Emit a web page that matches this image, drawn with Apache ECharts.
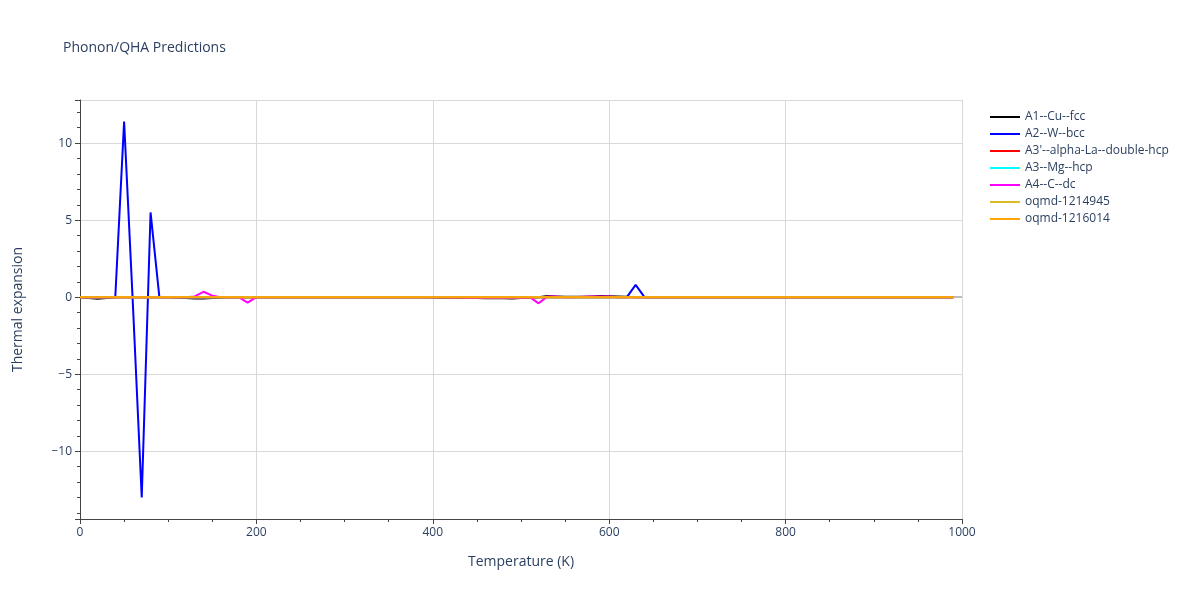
<!DOCTYPE html><html><head><meta charset="utf-8"><script src="https://cdn.jsdelivr.net/npm/echarts@6/dist/echarts.min.js"></script></head><body style="margin:0"><div id="c" style="width:1200px;height:600px"></div><script>
const temps=[0,10,20,30,40,50,60,70,80,90,100,110,120,130,140,150,160,170,180,190,200,210,220,230,240,250,260,270,280,290,300,310,320,330,340,350,360,370,380,390,400,410,420,430,440,450,460,470,480,490,500,510,520,530,540,550,560,570,580,590,600,610,620,630,640,650,660,670,680,690,700,710,720,730,740,750,760,770,780,790,800,810,820,830,840,850,860,870,880,890,900,910,920,930,940,950,960,970,980,990];
const names=["A1--Cu--fcc","A2--W--bcc","A3'--alpha-La--double-hcp","A3--Mg--hcp","A4--C--dc","oqmd-1214945","oqmd-1216014"];
const colors=["#000000","#0000ff","#ff0000","#00ffff","#ff00ff","#ddbb22","#ffa500"];
const cu=[0,-0.05,-0.1,-0.05,0,0,0,0,0,0,0,-0.02,-0.05,-0.08,-0.08,-0.06,-0.02,0,0,0,0,0,0,0,0,0,0,0,0,0,0,0,0,0,0,0,0,0,0,0,-0.02,-0.03,-0.04,-0.05,-0.06,-0.06,-0.07,-0.07,-0.07,-0.08,-0.06,-0.03,0,0.08,0.05,0.02,0.02,0.02,0.05,0.07,0.06,0.04,0.02,0,0,0,0,0,0,0,0,0,0,0,0,0,0,0,0,0,0,0,0,0,0,0,0,0,0,0,0,0,0,0,0,0,0,0,0,0];
const w=[0,-0.05,-0.05,-0.02,0,11.4,-0.5,-13,5.5,0,0,-0.02,-0.04,-0.05,-0.05,-0.04,0,0,0,0,0,0,0,0,0,0,0,0,0,0,0,0,0,0,0,0,0,0,0,0,0,0,0,0,0,0,0,0,0,0,0,0,0,0,0,0,0,0,0,0,0,0,0,0.8,0,0,0,0,0,0,0,0,0,0,0,0,0,0,0,0,0,0,0,0,0,0,0,0,0,0,0,0,0,0,0,0,0,0,0,0];
const la=temps.map(()=>0);
const mg=temps.map(()=>0);
const c=[0,0,0,0,0,0,0,0,0,0,0,0,0,0.05,0.35,0.1,0,0,0,-0.35,0,0,0,0,0,0,0,0,0,0,0,0,0,0,0,0,0,0,0,0,0,-0.01,-0.02,-0.02,-0.03,-0.03,-0.03,-0.03,-0.03,-0.03,-0.03,0,-0.4,0.05,0.05,0,0,0.03,0.05,0.05,0.04,0,0,0,0,0,0,0,0,0,0,0,0,0,0,0,0,0,0,0,0,0,0,0,0,0,0,0,0,0,0,0,0,0,0,0,0,0,0,0];
const o1=temps.map(()=>0);
const o2=temps.map(()=>0);
const vals=[cu,w,la,mg,c,o1,o2];
const ch=echarts.init(document.getElementById('c'));
const txt='#2a3f5f';
ch.setOption({
 animation:false,
 title:{text:'Phonon/QHA Predictions',left:58,top:36,textStyle:{fontFamily:'Open Sans',fontSize:14,fontWeight:'normal',color:txt}},
 legend:{orient:'vertical',left:985,top:106,itemGap:5,itemWidth:30,itemHeight:14,icon:'path://M0,6h30v2h-30z',textStyle:{fontFamily:'Open Sans',fontSize:12,color:txt},data:names},
 grid:{left:80,right:238,top:100,bottom:81},
 xAxis:{type:'value',min:0,max:1000,interval:200,name:'Temperature (K)',nameLocation:'middle',nameGap:36,nameTextStyle:{fontFamily:'Open Sans',fontSize:14,color:txt},
  axisLine:{show:true,onZero:false,lineStyle:{color:'#444'}},axisTick:{show:true,length:5,lineStyle:{color:'#444'}},minorTick:{show:true,splitNumber:4,length:3,lineStyle:{color:'#444'}},
  axisLabel:{fontFamily:'Open Sans',fontSize:12,color:txt,formatter:v=>String(v)},splitLine:{lineStyle:{color:'#d9d9d9'}}},
 yAxis:{type:'value',min:-14.4,max:12.8,name:'Thermal expansion',nameLocation:'middle',nameGap:55,nameTextStyle:{fontFamily:'Open Sans',fontSize:14,color:txt},
  axisLine:{show:true,onZero:false,lineStyle:{color:'#444'}},axisTick:{show:true,length:5,lineStyle:{color:'#444'}},minorTick:{show:true,splitNumber:5,length:3,lineStyle:{color:'#444'}},
  axisLabel:{fontFamily:'Open Sans',fontSize:12,color:txt,showMinLabel:false,showMaxLabel:false,formatter:v=>String(v).replace('-','−')},splitLine:{lineStyle:{color:'#d9d9d9'}}},
 series:[{type:'line',data:[],silent:true,z:1,markLine:{silent:true,symbol:'none',label:{show:false},lineStyle:{color:'#bbb',width:2,type:'solid'},data:[{yAxis:0}]}}].concat(names.map((n,i)=>({name:n,type:'line',z:3+i,data:temps.map((t,j)=>[t,vals[i][j]]),symbol:'none',lineStyle:{width:2,color:colors[i]},itemStyle:{color:colors[i]}})))
});
</script></body></html>
